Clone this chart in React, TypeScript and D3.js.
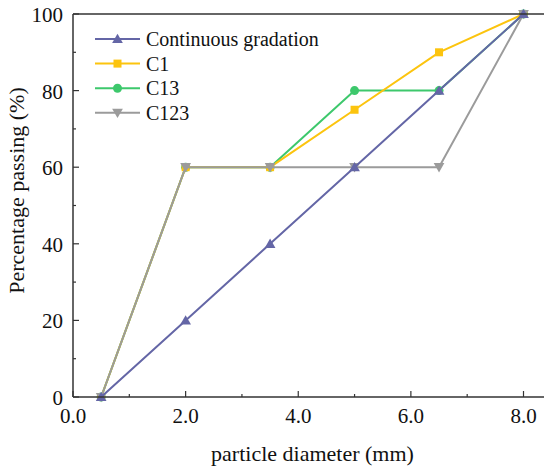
import React from "react";
import * as d3 from "d3";

const xValues = [0.5, 2, 3.5, 5, 6.5, 8];
const continuous = [0, 20, 40, 60, 80, 100];
const c1 = [0, 60, 60, 75, 90, 100];
const c13 = [0, 60, 60, 80, 80, 100];
const c123 = [0, 60, 60, 60, 60, 100];
const seriesNames = ["Continuous gradation", "C1", "C13", "C123"];
const xTicks = [0, 2, 4, 6, 8];
const xMinor = [1, 3, 5, 7];
const yTicks = [0, 20, 40, 60, 80, 100];
const yMinor = [10, 30, 50, 70, 90];

const W = 544, H = 466;
const FONT = "Liberation Serif, Times New Roman, serif";

export default function App() {
  const x = d3.scaleLinear().domain([0, 8]).range([73, 523.5]);
  const y = d3.scaleLinear().domain([0, 100]).range([397, 14]);
  const series = [
    { name: seriesNames[0], vals: continuous, color: "#6466a6", shape: "tri" },
    { name: seriesNames[1], vals: c1, color: "#fcc40e", shape: "sq" },
    { name: seriesNames[2], vals: c13, color: "#3dc86c", shape: "circ" },
    { name: seriesNames[3], vals: c123, color: "#9b9b9b", shape: "tridown" },
  ];
  const drawOrder = [2, 1, 3, 0];
  const line = d3.line<number>().x((_, i) => x(xValues[i])).y((v) => y(v));
  const marker = (shape: string, cx: number, cy: number, color: string, key: string) => {
    if (shape === "sq") return <rect key={key} x={cx - 4} y={cy - 4} width={8} height={8} fill={color} />;
    if (shape === "circ") return <circle key={key} cx={cx} cy={cy} r={4.5} fill={color} />;
    const sym = d3.symbol().type(d3.symbolTriangle).size(50)();
    return (
      <path key={key} d={sym || ""} fill={color}
        transform={`translate(${cx},${cy + (shape === "tri" ? 1 : -1)}) ${shape === "tridown" ? "rotate(180)" : ""}`} />
    );
  };
  const x0 = x(0), y0 = y(0), yTop = y(100);
  const T = (props: any) => <text {...props} style={{ fontFamily: FONT }} fill="#111" />;
  return (
    <svg width={W} height={H} style={{ display: "block", position: "absolute", left: 0, top: 0, background: "#fff" }}>
      {drawOrder.map((si) => {
        const s = series[si];
        return (
          <g key={s.name}>
            <path d={line(s.vals) || ""} fill="none" stroke={s.color} strokeWidth={2} />
            {s.vals.map((v, i) => marker(s.shape, x(xValues[i]), y(v), s.color, s.name + i))}
          </g>
        );
      })}
      <line x1={x0} x2={W} y1={y0} y2={y0} stroke="#333" strokeWidth={1.5} />
      <line x1={x0} x2={W} y1={yTop} y2={yTop} stroke="#333" strokeWidth={1.5} />
      <line x1={x0} x2={x0} y1={yTop} y2={y0} stroke="#333" strokeWidth={1.5} />
      {xTicks.map((t) => (
        <g key={"xt" + t}>
          <line x1={x(t)} x2={x(t)} y1={y0} y2={y0 - 6} stroke="#333" strokeWidth={1.2} />
          <T x={x(t)} y={423} textAnchor="middle" fontSize={21}>{t.toFixed(1)}</T>
        </g>
      ))}
      {xMinor.map((t) => (
        <line key={"xm" + t} x1={x(t)} x2={x(t)} y1={y0} y2={y0 - 3} stroke="#333" strokeWidth={1.2} />
      ))}
      {yTicks.map((t) => (
        <g key={"yt" + t}>
          <line x1={x0} x2={x0 + 6} y1={y(t)} y2={y(t)} stroke="#333" strokeWidth={1.2} />
          <T x={63} y={y(t) + 8} textAnchor="end" fontSize={21}>{t}</T>
        </g>
      ))}
      {yMinor.map((t) => (
        <line key={"ym" + t} x1={x0} x2={x0 + 3} y1={y(t)} y2={y(t)} stroke="#333" strokeWidth={1.2} />
      ))}
      <T x={312.5} y={461} textAnchor="middle" fontSize={22}>particle diameter (mm)</T>
      <T transform={`translate(24,190.5) rotate(-90)`} textAnchor="middle" fontSize={22}>Percentage passing (%)</T>
      {series.map((s, i) => {
        const ly = 39 + i * 24.6;
        return (
          <g key={"lg" + i}>
            <line x1={95} x2={140} y1={ly} y2={ly} stroke={s.color} strokeWidth={2} />
            {marker(s.shape, 117.5, ly, s.color, "lm" + i)}
            <T x={146} y={ly + 7} fontSize={20}>{s.name}</T>
          </g>
        );
      })}
    </svg>
  );
}
